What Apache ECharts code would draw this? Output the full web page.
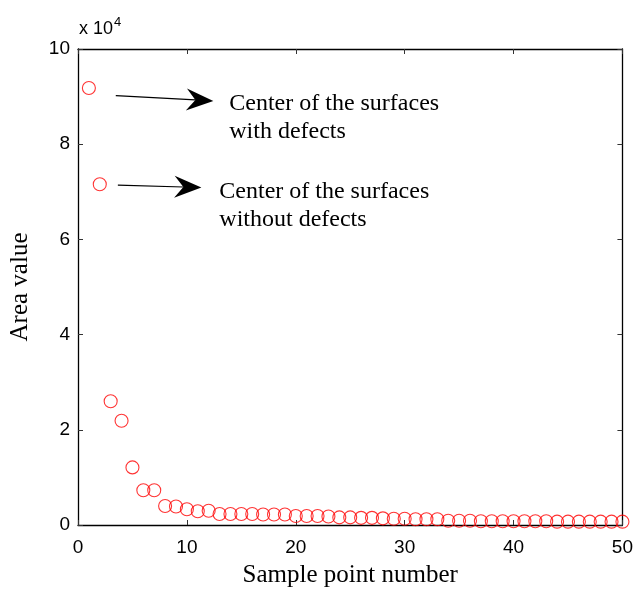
<!DOCTYPE html>
<html><head><meta charset="utf-8">
<script src="https://cdn.jsdelivr.net/npm/echarts@6/dist/echarts.min.js"></script>
<style>html,body{margin:0;padding:0;background:#fff}#c{width:636px;height:593px}</style>
</head><body><div id="c"></div>
<script>
// Sample point numbers and area values (raw units)
const samplePoints = Array.from({length: 50}, (_, i) => i + 1);
const areaValues = [
  91800, 71600, 26000, 21900, 12100, 7300, 7300, 4000, 3900, 3300,
  2900, 3000, 2300, 2300, 2300, 2300, 2200, 2200, 2200, 1900,
  1900, 1900, 1800, 1600, 1600, 1500, 1500, 1400, 1300, 1300,
  1200, 1200, 1200, 900, 900, 900, 800, 800, 800, 800,
  800, 800, 800, 700, 700, 700, 700, 700, 700, 700
];
const xTicks = [0, 10, 20, 30, 40, 50];
const yTicks = [0, 2, 4, 6, 8, 10]; // in units of 10^4
const annotations = [
  {from: [3.47, 9.02], to: [12.43, 8.91], lines: ['Center of the surfaces', 'with defects'], textAt: [13.89, 9.14]},
  {from: [3.66, 7.14], to: [11.33, 7.09], lines: ['Center of the surfaces', 'without defects'], textAt: [12.98, 7.30]}
];

const chart = echarts.init(document.getElementById('c'), null, {renderer: 'canvas'});
const axisLine = () => ({show: true, onZero: false, lineStyle: {color: '#000', width: 1.3}});
const tickIn = () => ({show: true, inside: true, length: 5, lineStyle: {color: '#333', width: 1}});
const labelFont = {fontFamily: 'Liberation Sans, Arial, sans-serif', fontSize: 19, color: '#000'};
const titleFont = {fontFamily: 'Liberation Serif, Times New Roman, serif', fontSize: 25, color: '#000'};
chart.setOption({
  animation: false,
  grid: {left: 76, right: 13, top: 49, bottom: 66},
  xAxis: [
    {type: 'value', min: 0, max: 50, interval: 10, position: 'bottom',
     axisLine: axisLine(), axisTick: tickIn(), splitLine: {show: false},
     axisLabel: Object.assign({margin: 13, formatter: v => xTicks.includes(v) ? String(v) : ''}, labelFont),
     name: 'Sample point number', nameLocation: 'middle', nameGap: 38, nameTextStyle: titleFont},
    {type: 'value', min: 0, max: 50, interval: 10, position: 'top',
     axisLine: axisLine(), axisTick: tickIn(), splitLine: {show: false}, axisLabel: {show: false}}
  ],
  yAxis: [
    {type: 'value', min: 0, max: 100000, interval: 20000, position: 'left',
     axisLine: axisLine(), axisTick: tickIn(), splitLine: {show: false},
     axisLabel: Object.assign({margin: 8, formatter: v => yTicks.includes(v / 10000) ? String(v / 10000) : ''}, labelFont),
     name: 'Area value', nameLocation: 'middle', nameGap: 45, nameRotate: 90, nameTextStyle: titleFont},
    {type: 'value', min: 0, max: 100000, interval: 20000, position: 'right',
     axisLine: axisLine(), axisTick: tickIn(), splitLine: {show: false}, axisLabel: {show: false}}
  ],
  series: [{
    type: 'scatter',
    xAxisIndex: 0, yAxisIndex: 0,
    data: samplePoints.map((x, i) => [x, areaValues[i]]),
    symbol: 'circle', symbolSize: 13,
    itemStyle: {color: 'rgba(0,0,0,0)', borderColor: '#ff0000', borderWidth: 1.1},
    clip: false, z: 5
  }]
});

function drawAnnotations() {
  const els = [];
  const tl = chart.convertToPixel({gridIndex: 0}, [0, 100000]);
  els.push({type: 'text', left: tl[0] + 1, top: tl[1] - 33,
    style: {text: '{a|x 10}{b|4}', rich: {
      a: {fontFamily: 'Liberation Sans, Arial, sans-serif', fontSize: 18, fill: '#000', verticalAlign: 'bottom', lineHeight: 22},
      b: {fontFamily: 'Liberation Sans, Arial, sans-serif', fontSize: 13, fill: '#000', verticalAlign: 'top', padding: [0, 0, 12, 1], lineHeight: 22}
    }}});
  annotations.forEach(a => {
    const p0 = chart.convertToPixel({gridIndex: 0}, [a.from[0], a.from[1] * 10000]);
    const p1 = chart.convertToPixel({gridIndex: 0}, [a.to[0], a.to[1] * 10000]);
    const ang = Math.atan2(p1[1] - p0[1], p1[0] - p0[0]);
    const L = 27, W = 11, N = 18;
    const ca = Math.cos(ang), sa = Math.sin(ang);
    const pt = (d, w) => [p1[0] - d * ca - w * sa, p1[1] - d * sa + w * ca];
    els.push({type: 'line', shape: {x1: p0[0], y1: p0[1], x2: pt(N, 0)[0], y2: pt(N, 0)[1]}, style: {stroke: '#000', lineWidth: 1.2}});
    els.push({type: 'polygon', shape: {points: [p1, pt(L, -W), pt(N, 0), pt(L, W)]}, style: {fill: '#000'}});
    const tp = chart.convertToPixel({gridIndex: 0}, [a.textAt[0], a.textAt[1] * 10000]);
    els.push({type: 'text', x: tp[0], y: tp[1], style: {text: a.lines.join('\n'),
      fontFamily: 'Liberation Serif, Times New Roman, serif', fontSize: 24, lineHeight: 28, fill: '#000',
      textAlign: 'left', textVerticalAlign: 'top'}});
  });
  chart.setOption({graphic: els});
}
drawAnnotations();
</script></body></html>
